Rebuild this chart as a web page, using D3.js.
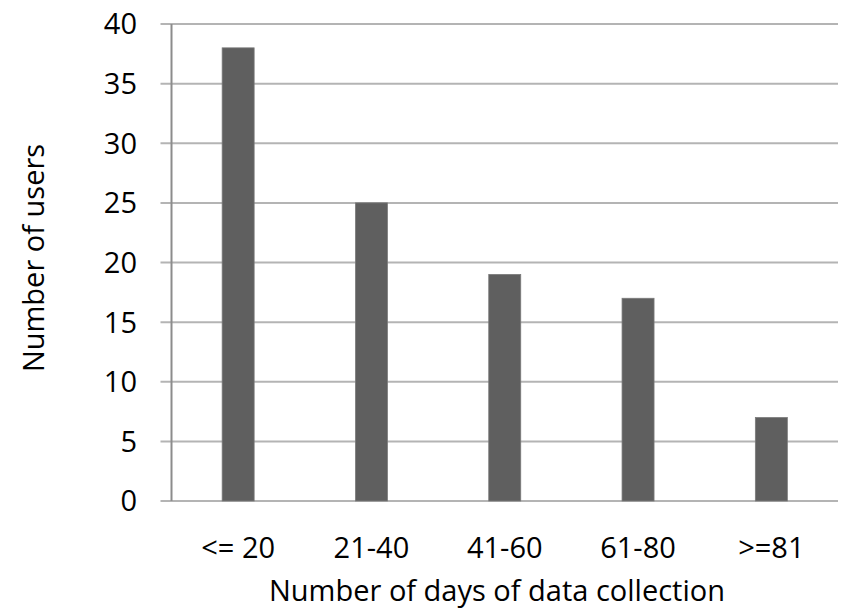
<!DOCTYPE html>
<html>
<head>
<meta charset="utf-8">
<script src="https://cdn.jsdelivr.net/npm/d3@7/dist/d3.min.js"></script>
<style>
  html, body { margin: 0; padding: 0; background: #fff; }
  svg text { font-family: "Open Sans", "Noto Sans", sans-serif; fill: #000; }
</style>
</head>
<body>
<svg id="chart" width="841" height="610"></svg>
<script>
// Users grouped by how many days of data they collected
const categories = ["<= 20", "21-40", "41-60", "61-80", ">=81"];
const users = [38, 25, 19, 17, 7];
const yTicks = [0, 5, 10, 15, 20, 25, 30, 35, 40];

const svg = d3.select("#chart");
const margin = { left: 171.5, right: 3, top: 24, bottom: 109 };
const W = 841, H = 610;
const fontSize = 29;

const x = d3.scaleBand()
  .domain(categories)
  .range([margin.left, W - margin.right])
  .paddingInner(0.76)
  .paddingOuter(0.38);

const y = d3.scaleLinear()
  .domain([0, 40])
  .range([H - margin.bottom, margin.top]);

// horizontal gridlines with short tick stubs to the left of the axis
svg.append("g")
  .selectAll("line")
  .data(yTicks)
  .join("line")
  .attr("x1", margin.left - 11)
  .attr("x2", W - margin.right)
  .attr("y1", d => y(d))
  .attr("y2", d => y(d))
  .attr("stroke", "#b4b4b4")
  .attr("stroke-width", 2);

// y tick labels
svg.append("g")
  .selectAll("text")
  .data(yTicks)
  .join("text")
  .attr("x", 137)
  .attr("y", d => y(d))
  .attr("dy", "0.36em")
  .attr("text-anchor", "end")
  .attr("font-size", fontSize)
  .text(d => d);

// bars
svg.append("g")
  .selectAll("rect")
  .data(users)
  .join("rect")
  .attr("x", (d, i) => x(categories[i]))
  .attr("y", d => y(d))
  .attr("width", x.bandwidth())
  .attr("height", d => y(0) - y(d))
  .attr("fill", "#5f5f5f")
  .attr("stroke", "#7a7a7a")
  .attr("stroke-width", 0.8);

// vertical axis line
svg.append("line")
  .attr("x1", margin.left)
  .attr("x2", margin.left)
  .attr("y1", y(40))
  .attr("y2", y(0))
  .attr("stroke", "#8c8c8c")
  .attr("stroke-width", 2);

// category labels
svg.append("g")
  .selectAll("text")
  .data(categories)
  .join("text")
  .attr("x", d => x(d) + x.bandwidth() / 2)
  .attr("y", 558)
  .attr("text-anchor", "middle")
  .attr("font-size", fontSize)
  .text(d => d);

// axis titles
svg.append("text")
  .attr("x", 497)
  .attr("y", 601)
  .attr("text-anchor", "middle")
  .attr("font-size", fontSize)
  .text("Number of days of data collection");

svg.append("text")
  .attr("transform", "translate(44,258) rotate(-90)")
  .attr("text-anchor", "middle")
  .attr("font-size", fontSize)
  .text("Number of users");
</script>
</body>
</html>
